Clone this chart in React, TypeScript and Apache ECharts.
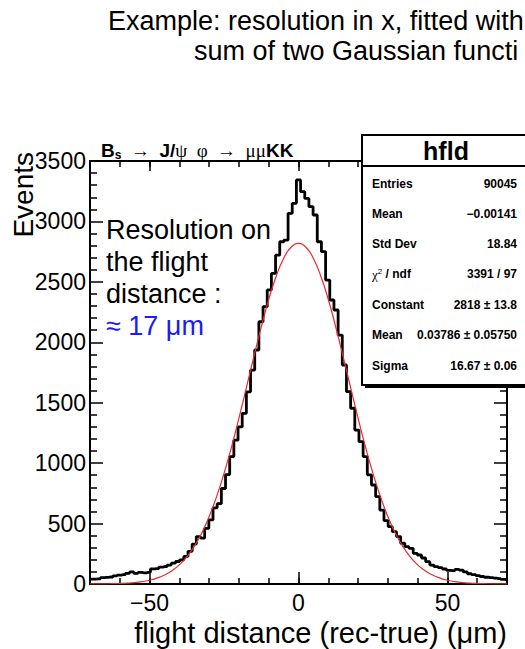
import React, { useEffect, useRef } from "react";
import * as echarts from "echarts";

// ---- Data ----
const BIN_START = -70; // centre of first bin (µm)
const BIN_WIDTH = 1.4; // µm
const histCounts = [
  40, 40, 43, 52, 55, 58, 68, 74, 78, 88,
  100, 88, 96, 92, 97, 125, 128, 140, 145, 157,
  172, 186, 200, 228, 270, 330, 392, 380, 460, 530,
  630, 665, 790, 905, 1054, 1190, 1300, 1412, 1590, 1770,
  1936, 2170, 2295, 2433, 2570, 2721, 2832, 2846, 3067, 3150,
  3343,
  3246, 3190, 3122, 3053, 2832, 2750, 2515, 2350, 2267, 2060,
  1812, 1591, 1454, 1274, 1178, 1054, 903, 819, 723, 612,
  524, 474, 433, 392, 337, 309, 295, 254, 240, 215,
  185, 157, 143, 135, 124, 112, 110, 121, 115, 100,
  85, 78, 70, 62, 56, 52, 48, 44, 38, 33,
];

const fitX = [
  -70, -67.5, -65, -62.5, -60, -57.5, -55, -52.5, -50, -47.5, -45, -42.5, -40, -37.5, -35,
  -32.5, -30, -27.5, -25, -22.5, -20, -17.5, -15, -12.5, -10, -7.5, -5, -2.5, 0,
  2.5, 5, 7.5, 10, 12.5, 15, 17.5, 20, 22.5, 25, 27.5, 30, 32.5, 35, 37.5, 40,
  42.5, 45, 47.5, 50, 52.5, 55, 57.5, 60, 62.5, 65, 67.5, 70,
];
const fitY = [
  0.4, 0.8, 1.4, 2.5, 4, 7, 12, 20, 31, 49, 74, 109, 158, 224, 311,
  421, 558, 723, 915, 1133, 1372, 1624, 1880, 2127, 2354, 2547, 2694, 2786, 2818,
  2786, 2694, 2547, 2354, 2127, 1880, 1624, 1372, 1133, 915, 723, 558, 421, 311, 224, 158,
  109, 74, 49, 31, 20, 12, 7, 4, 2.5, 1.4, 0.8, 0.4,
];

const xLabelTicks = [-50, 0, 50];
const yRange = [0, 3500];
const yStep = 500;

const titleLines = ["Example: resolution in x, fitted with", "sum of two Gaussian functi"];
const noteLines = ["Resolution on", "the flight", "distance :"];
const noteBlue = "≈ 17 μm";
const statsName = "hfld";
const statsLabels = ["Entries", "Mean", "Std Dev", "CHI", "Constant", "Mean", "Sigma"];
const statsValues = ["90045", "−0.00141", "18.84", "3391 / 97", "2818 ± 13.8", "0.03786 ± 0.05750", "16.67 ± 0.06"];
const xTitle = "flight distance (rec-true) (μm)";
const yTitle = "Events";

const SANS = "'Liberation Sans', Arial, Helvetica, sans-serif";
const SERIF = "'Liberation Serif', 'Times New Roman', serif";

export default function App() {
  const ref = useRef<HTMLDivElement>(null);

  useEffect(() => {
    if (!ref.current) return;
    const chart = echarts.init(ref.current, undefined, { renderer: "svg" });

    const gridRect = { left: 90, top: 161, width: 417, height: 423 };
    const axisLine = { show: true, onZero: false, lineStyle: { color: "#000", width: 2 } };
    const fmt = (v: number) => (v < 0 ? "−" + Math.abs(v) : String(v));

    const statsRowY = [184, 214, 244, 274, 305, 335, 366];
    const statsTexts: any[] = [];
    statsLabels.forEach((lab, i) => {
      if (lab === "CHI") {
        statsTexts.push({
          type: "text",
          z: 102,
          x: 372,
          y: statsRowY[i],
          style: {
            text: "{g|χ}{s|2}{b| / ndf}",
            verticalAlign: "middle",
            rich: {
              g: { fontFamily: SERIF, fontSize: 13, fill: "#000" },
              s: { fontFamily: SANS, fontSize: 8, fill: "#000", verticalAlign: "top", padding: [0, 0, 6, 0] },
              b: { fontFamily: SANS, fontSize: 12, fontWeight: "bold", fill: "#000" },
            },
          },
        });
      } else {
        statsTexts.push({
          type: "text",
          z: 102,
          x: 372,
          y: statsRowY[i],
          style: { text: lab, fontFamily: SANS, fontSize: 12, fontWeight: "bold", fill: "#000", verticalAlign: "middle" },
        });
      }
      statsTexts.push({
        type: "text",
        z: 102,
        x: 517,
        y: statsRowY[i],
        style: {
          text: statsValues[i],
          fontFamily: SANS,
          fontSize: 12,
          fontWeight: "bold",
          fill: "#000",
          align: "right",
          verticalAlign: "middle",
        },
      });
    });

    const option: any = {
      animation: false,
      backgroundColor: "#fff",
      grid: [
        { ...gridRect, show: false },
        { ...gridRect, show: false },
      ],
      xAxis: [
        {
          gridIndex: 0,
          type: "value",
          position: "bottom",
          min: -70,
          max: 70,
          interval: 10,
          axisLine,
          axisTick: { show: true, inside: true, length: 6, lineStyle: { color: "#000", width: 1.5 } },
          axisLabel: {
            show: true,
            customValues: xLabelTicks,
            formatter: fmt,
            fontSize: 23,
            color: "#000",
            margin: 7,
            fontFamily: SANS,
          },
          splitLine: { show: false },
        },
        {
          gridIndex: 0,
          type: "value",
          position: "top",
          min: -70,
          max: 70,
          interval: 10,
          axisLine,
          axisTick: { show: true, inside: true, length: 6, lineStyle: { color: "#000", width: 1.5 } },
          axisLabel: { show: false },
          splitLine: { show: false },
        },
        {
          gridIndex: 1,
          type: "value",
          position: "bottom",
          min: -70,
          max: 70,
          interval: 10,
          axisLine: { show: false },
          axisTick: { show: true, inside: true, length: 12, customValues: xLabelTicks, lineStyle: { color: "#000", width: 1.5 } },
          axisLabel: { show: false },
          splitLine: { show: false },
        },
        {
          gridIndex: 1,
          type: "value",
          position: "top",
          min: -70,
          max: 70,
          interval: 10,
          axisLine: { show: false },
          axisTick: { show: true, inside: true, length: 10, customValues: xLabelTicks, lineStyle: { color: "#000", width: 1.5 } },
          axisLabel: { show: false },
          splitLine: { show: false },
        },
      ],
      yAxis: [
        {
          gridIndex: 0,
          type: "value",
          position: "left",
          min: yRange[0],
          max: yRange[1],
          interval: yStep,
          axisLine,
          axisTick: { show: true, inside: true, length: 13, lineStyle: { color: "#000", width: 1.5 } },
          minorTick: { show: true, splitNumber: 5, length: 7, lineStyle: { color: "#000", width: 1.5 } },
          axisLabel: { show: true, fontSize: 23, color: "#000", margin: 4, fontFamily: SANS, formatter: (v: number) => String(v) },
          splitLine: { show: false },
          minorSplitLine: { show: false },
        },
        {
          gridIndex: 0,
          type: "value",
          position: "right",
          min: yRange[0],
          max: yRange[1],
          interval: yStep,
          axisLine,
          axisTick: { show: true, inside: true, length: 13, lineStyle: { color: "#000", width: 1.5 } },
          minorTick: { show: true, splitNumber: 5, length: 7, lineStyle: { color: "#000", width: 1.5 } },
          axisLabel: { show: false },
          splitLine: { show: false },
          minorSplitLine: { show: false },
        },
        { gridIndex: 1, type: "value", min: yRange[0], max: yRange[1], show: false },
      ],
      series: [
        {
          type: "line",
          xAxisIndex: 0,
          yAxisIndex: 0,
          step: "middle",
          data: histCounts.map((v, i) => [BIN_START + i * BIN_WIDTH, v]),
          symbol: "none",
          lineStyle: { color: "#000", width: 2.8 },
          z: 3,
        },
        {
          type: "line",
          xAxisIndex: 0,
          yAxisIndex: 0,
          data: fitX.map((x, i) => [x, fitY[i]]),
          smooth: true,
          symbol: "none",
          lineStyle: { color: "#e52b2b", width: 1.2 },
          z: 4,
        },
      ],
      graphic: [
        {
          type: "text",
          x: 108,
          y: 21,
          style: { text: titleLines[0], fontFamily: SANS, fontSize: 27, fill: "#000", verticalAlign: "middle" },
        },
        {
          type: "text",
          x: 194,
          y: 51,
          style: { text: titleLines[1], fontFamily: SANS, fontSize: 27, fill: "#000", verticalAlign: "middle" },
        },
        {
          type: "text",
          x: 101,
          y: 150,
          style: {
            text: "{b|B}{sub|s}{n|  →  }{b|J/}{n|ψ  φ  →  μμ}{b|KK}",
            verticalAlign: "middle",
            rich: {
              b: { fontFamily: SANS, fontSize: 19, fontWeight: "bold", fill: "#000" },
              sub: { fontFamily: SANS, fontSize: 12, fontWeight: "bold", fill: "#000", padding: [9, 0, 0, 0] },
              n: { fontFamily: SERIF, fontSize: 19, fill: "#000" },
            },
          },
        },
        {
          type: "text",
          x: 9,
          y: 152,
          rotation: Math.PI / 2,
          style: { text: yTitle, fontFamily: SANS, fontSize: 28, fill: "#000", align: "right", verticalAlign: "top" },
        },
        {
          type: "text",
          x: 507,
          y: 633,
          style: { text: xTitle, fontFamily: SANS, fontSize: 29, fill: "#000", align: "right", verticalAlign: "middle" },
        },
        ...noteLines.map((t, i) => ({
          type: "text",
          x: 106,
          y: 230 + i * 32,
          style: { text: t, fontFamily: SANS, fontSize: 27, fill: "#000", verticalAlign: "middle" },
        })),
        {
          type: "text",
          x: 106,
          y: 326,
          style: { text: noteBlue, fontFamily: SANS, fontSize: 27, fill: "#1a1aff", verticalAlign: "middle" },
        },
        { type: "rect", z: 100, shape: { x: 365, y: 138, width: 200, height: 250 }, style: { fill: "#000" } },
        {
          type: "rect",
          z: 101,
          shape: { x: 362, y: 135, width: 200, height: 250 },
          style: { fill: "#fff", stroke: "#000", lineWidth: 2 },
        },
        { type: "line", z: 102, shape: { x1: 362, y1: 166, x2: 525, y2: 166 }, style: { stroke: "#000", lineWidth: 2 } },
        {
          type: "text",
          z: 102,
          x: 446,
          y: 151,
          style: {
            text: statsName,
            fontFamily: SANS,
            fontSize: 25,
            fontWeight: "bold",
            fill: "#000",
            align: "center",
            verticalAlign: "middle",
          },
        },
        ...statsTexts,
      ],
    };

    chart.setOption(option);
    return () => chart.dispose();
  }, []);

  return <div ref={ref} style={{ position: "absolute", left: 0, top: 0, width: 525, height: 649 }} />;
}
